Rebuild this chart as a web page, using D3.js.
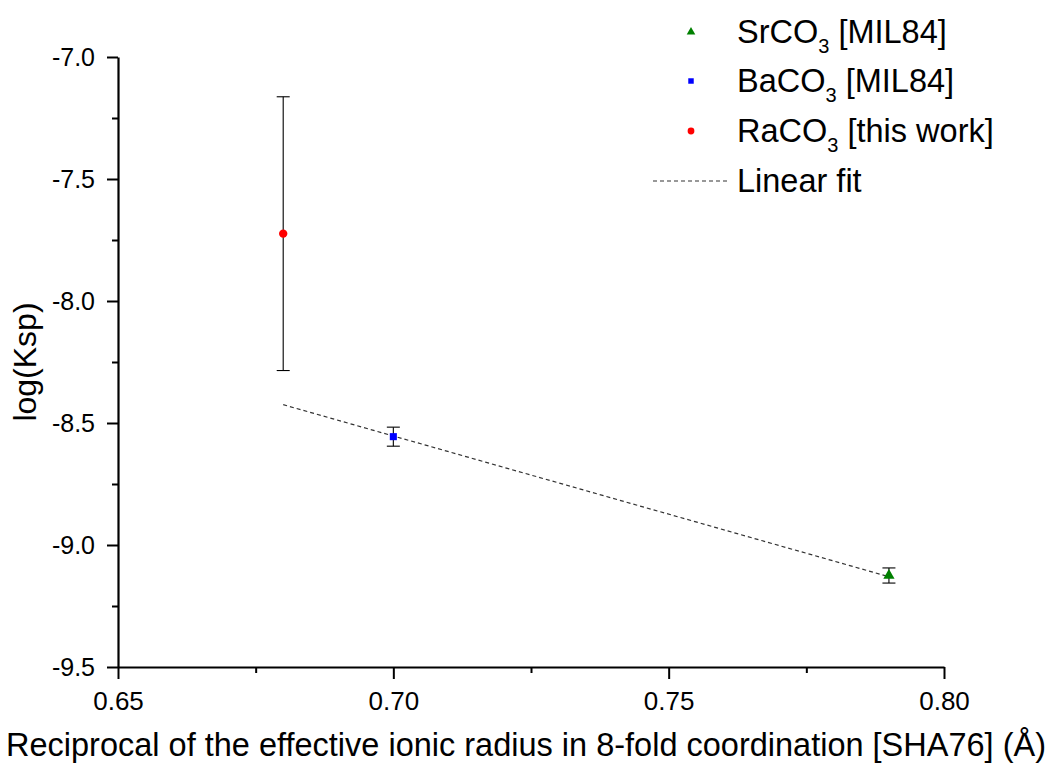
<!DOCTYPE html>
<html>
<head>
<meta charset="utf-8">
<script src="https://cdn.jsdelivr.net/npm/d3@7"></script>
<style>
  html, body { margin: 0; padding: 0; background: #fff; }
  svg { display: block; font-family: Arial, "Liberation Sans", sans-serif; }
</style>
</head>
<body>
<svg id="chart" width="1059" height="763"></svg>
<script>
// Solubility products of alkaline-earth carbonates vs. 1/r (8-fold coordination)
const compounds   = ["SrCO3", "BaCO3", "RaCO3"];
const sources     = ["[MIL84]", "[MIL84]", "[this work]"];
const recipRadius = [0.79, 0.70, 0.68];
const logKsp      = [-9.125, -8.556, -7.724];
const logKspErr   = [0.031, 0.039, 0.561];
const markerShape = ["triangle", "square", "circle"];
const markerColor = ["#008000", "#0000ff", "#ff0000"];

// Linear fit through the literature values
const fitX = [0.68, 0.79];
const fitY = [-8.425, -9.13];

const xTicks = [0.65, 0.70, 0.75, 0.80];
const yTicks = [-7.0, -7.5, -8.0, -8.5, -9.0, -9.5];

const svg = d3.select("#chart");
const plotL = 118, plotR = 944, plotT = 57, plotB = 667;

const x = d3.scaleLinear().domain([0.65, 0.80]).range([plotL, plotR]);
const y = d3.scaleLinear().domain([-9.5, -7.0]).range([plotB, plotT]);

// Axes: major ticks with labels, unlabeled minor ticks at midpoints
const xMinor = d3.range(0, 3).map(i => 0.675 + i * 0.05);
const yMinor = d3.range(0, 5).map(i => -7.25 - i * 0.5);

const gx = svg.append("g").attr("transform", `translate(0,${plotB})`);
gx.call(d3.axisBottom(x).tickValues(xTicks).tickFormat(d => d.toFixed(2))
  .tickSize(12).tickSizeOuter(0).tickPadding(13));
gx.append("g").call(d3.axisBottom(x).tickValues(xMinor).tickFormat("")
  .tickSize(6).tickSizeOuter(0)).select(".domain").remove();
gx.attr("font-size", 26).attr("font-family", "Arial, 'Liberation Sans', sans-serif");

const gy = svg.append("g").attr("transform", `translate(${plotL},0)`);
gy.call(d3.axisLeft(y).tickValues(yTicks).tickFormat(d => d.toFixed(1))
  .tickSize(11).tickSizeOuter(0).tickPadding(12));
gy.append("g").call(d3.axisLeft(y).tickValues(yMinor).tickFormat("")
  .tickSize(6).tickSizeOuter(0)).select(".domain").remove();
gy.attr("font-size", 25).attr("font-family", "Arial, 'Liberation Sans', sans-serif");

svg.selectAll(".domain").attr("stroke", "#000").attr("stroke-width", 2.2);
svg.selectAll(".tick line").attr("stroke", "#000").attr("stroke-width", 2);
svg.selectAll(".tick text").attr("fill", "#000");

// Axis titles
svg.append("text")
  .attr("x", 526).attr("y", 756)
  .attr("text-anchor", "middle")
  .style("font-size", "32.5px")
  .text("Reciprocal of the effective ionic radius in 8-fold coordination [SHA76] (Å)");

svg.append("text")
  .attr("transform", "translate(36,362) rotate(-90)")
  .attr("text-anchor", "middle")
  .style("font-size", "32px")
  .text("log(Ksp)");

// Linear fit
svg.append("path")
  .datum(fitX.map((v, i) => [v, fitY[i]]))
  .attr("d", d3.line().x(d => x(d[0])).y(d => y(d[1])))
  .attr("fill", "none").attr("stroke", "#333")
  .attr("stroke-width", 1.2).attr("stroke-dasharray", "4,3");

// Data
const data = compounds.map((c, i) => ({
  name: c, src: sources[i], x: recipRadius[i], y: logKsp[i], err: logKspErr[i],
  shape: markerShape[i], color: markerColor[i]
}));

const eb = svg.append("g").attr("stroke", "#000").attr("stroke-width", 1.1);
data.forEach(d => {
  const cx = x(d.x), y0 = y(d.y + d.err), y1 = y(d.y - d.err), cap = 6.5;
  eb.append("line").attr("x1", cx).attr("x2", cx).attr("y1", y0).attr("y2", y1);
  eb.append("line").attr("x1", cx - cap).attr("x2", cx + cap).attr("y1", y0).attr("y2", y0);
  eb.append("line").attr("x1", cx - cap).attr("x2", cx + cap).attr("y1", y1).attr("y2", y1);
});

const symType = { triangle: d3.symbolTriangle, square: d3.symbolSquare, circle: d3.symbolCircle };
const symSize = { triangle: 55, square: 50, circle: 55 };
svg.append("g").selectAll("path").data(data).join("path")
  .attr("transform", d => `translate(${x(d.x)},${y(d.y)})`)
  .attr("d", d => d3.symbol(symType[d.shape], symSize[d.shape])())
  .attr("fill", d => d.color);

// Legend
const lg = svg.append("g");
const rowY = [32, 81, 131];
const legSize = { triangle: 32, square: 30, circle: 36 };
data.forEach((d, i) => {
  lg.append("path")
    .attr("transform", `translate(691,${rowY[i]})`)
    .attr("d", d3.symbol(symType[d.shape], legSize[d.shape])())
    .attr("fill", d.color);
  const t = lg.append("text").attr("x", 737).attr("y", rowY[i] + 11)
    .style("font-size", "32.5px");
  t.append("tspan").text(d.name.slice(0, -1));
  t.append("tspan").text(d.name.slice(-1)).attr("dy", 10).style("font-size", "20px");
  t.append("tspan").text(" " + d.src).attr("dy", -10);
});
lg.append("line").attr("x1", 653).attr("x2", 727).attr("y1", 181).attr("y2", 181)
  .attr("stroke", "#333").attr("stroke-width", 1.2).attr("stroke-dasharray", "4,3");
lg.append("text").attr("x", 737).attr("y", 192).style("font-size", "32.5px").text("Linear fit");
</script>
</body>
</html>
